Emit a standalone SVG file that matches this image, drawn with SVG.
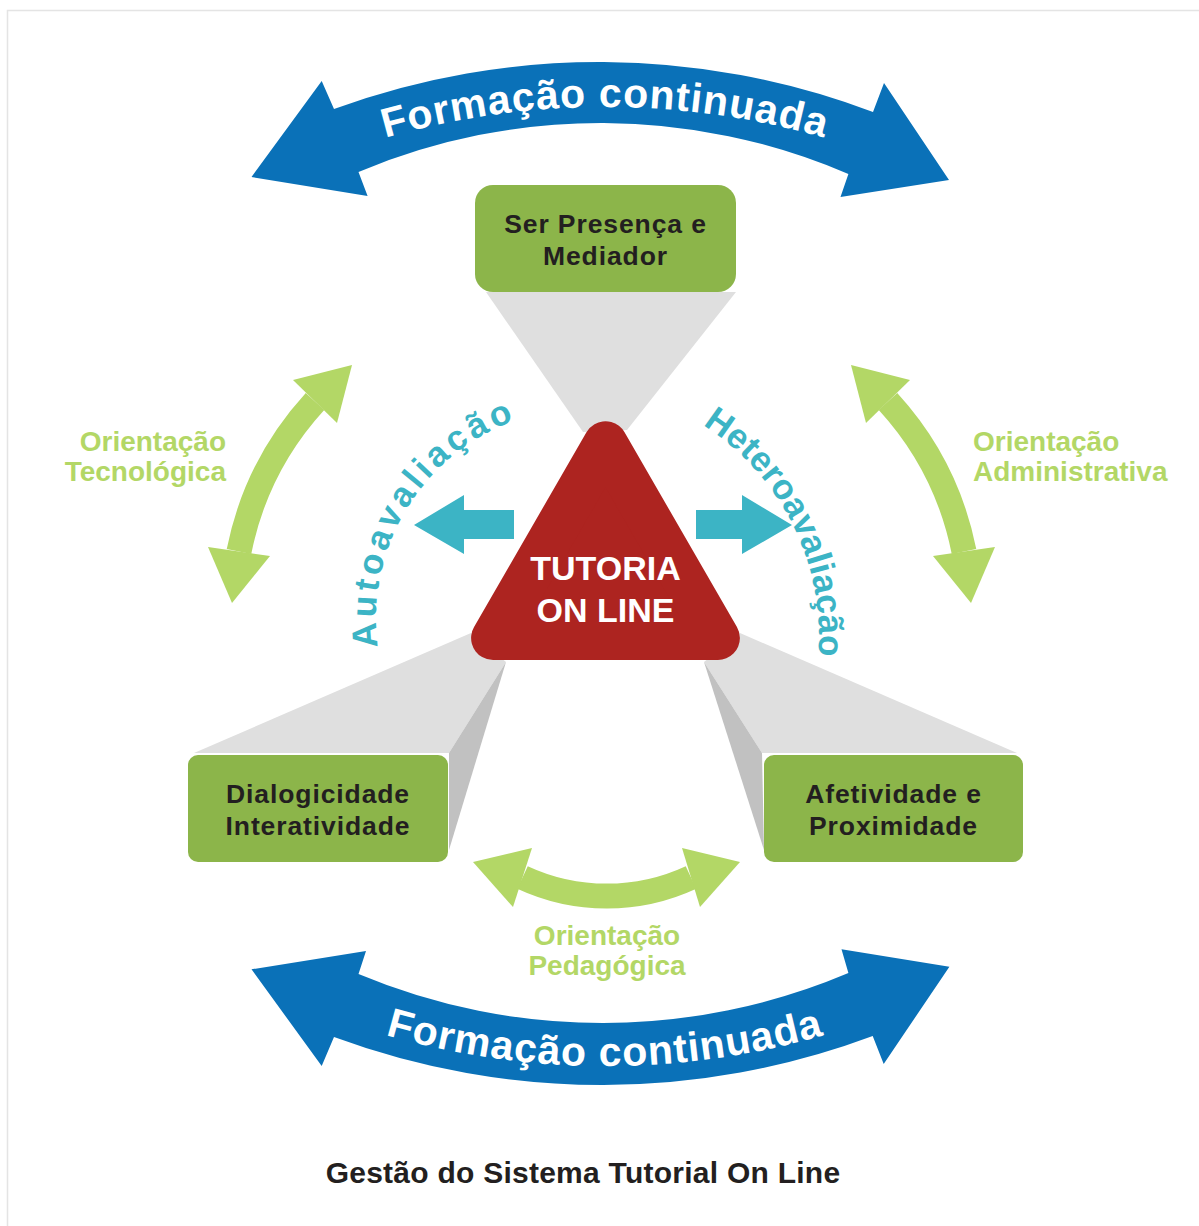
<svg xmlns="http://www.w3.org/2000/svg" width="1199" height="1226" viewBox="0 0 1199 1226">
  <defs>
    <style>
      .box { fill: #8cb54a; }
      .boxtxt { font-family: "Liberation Sans", Arial, sans-serif; font-weight: bold; font-size: 26.5px; fill: #231f20; text-anchor: middle; letter-spacing: 0.9px; }
      .lbl { font-family: "Liberation Sans", Arial, sans-serif; font-weight: bold; font-size: 28px; fill: #b3d766; }
      .arcTxt { font-family: "Liberation Sans", Arial, sans-serif; font-weight: bold; font-size: 35px; fill: #3cb4c5; }
      .bandTxt { font-family: "Liberation Sans", Arial, sans-serif; font-weight: bold; font-size: 41px; fill: #ffffff; letter-spacing: 1px; }
      .lgArrow { fill: #b3d766; }
      .lgShaft { fill: none; stroke: #b3d766; stroke-width: 25; }
      .blue { fill: #0a71b8; }
      .cyan { fill: #3cb4c5; }
      .grayL { fill: #dfdfdf; }
      .grayD { fill: #c1c1c1; }
    </style>
    <!-- baselines for the curved captions -->
    <path id="pAuto" d="M378,647 A210,210 0 0 1 557.8,410"/>
    <path id="pHetero" d="M702.7,425 A250,250 0 0 1 803,724"/>
    <path id="pTop" d="M205,214.2 A800,800 0 0 1 1005,214.2"/>
    <path id="pBottom" d="M210,960.2 A790,790 0 0 0 1000,960.2"/>
  </defs>

  <rect width="1199" height="1226" fill="#ffffff"/>
  <path d="M7.5,1226 V10.5 H1199" fill="none" stroke="#e4e4e4" stroke-width="1.5"/>

  <g id="connectors">
    <!-- projections from the triangle to the three boxes -->
    <polygon class="grayL" points="486,292 736,292 627,430 583,432"/>
    <polygon class="grayL" points="194,753 471,633 506,662 449,753"/>
    <polygon class="grayD" points="449,753 506,662 449,850"/>
    <polygon class="grayL" points="1017,753 740,633 704,662 762,753"/>
    <polygon class="grayD" points="762,753 704,662 764,850"/>

    <!-- Formação continuada bands -->
    <path id="bandTop" class="blue" d="M334,109 A773,773 0 0 1 873,112 L884,83 L949,180 L840.5,197 L848.4,174 A625,625 0 0 0 358.5,172 L367.6,196 L251.5,177 L321.7,81 Z"/>
    <path id="bandBottom" class="blue" d="M358.5,974 A631,631 0 0 0 848.4,973 L841.5,949.3 L949.4,966.7 L883.7,1064 L872.7,1036 A773,773 0 0 1 334,1037 L321.7,1066 L251.5,969.3 L366,951 Z"/>

    <!-- evaluation arrows -->
    <path id="arrowAuto" class="cyan" d="M514,510 H464 V495 L414,525 L464,554 V539 H514 Z"/>
    <path id="arrowHetero" class="cyan" d="M696,510 H742 V495 L792,525 L742,554 V539 H696 Z"/>

    <!-- orientation arrows -->
    <g id="arrowTec">
      <path class="lgShaft" d="M239,551.5 A313,313 0 0 1 315,401.5"/>
      <polygon class="lgArrow" points="352,365 293,380 337,423"/>
      <polygon class="lgArrow" points="232,603 208,547 270,556"/>
    </g>
    <g id="arrowAdm" transform="translate(1203,0) scale(-1,1)">
      <path class="lgShaft" d="M239,551.5 A313,313 0 0 1 315,401.5"/>
      <polygon class="lgArrow" points="352,365 293,380 337,423"/>
      <polygon class="lgArrow" points="232,603 208,547 270,556"/>
    </g>
    <g id="arrowPed">
      <path class="lgShaft" d="M522.5,877.5 A200,200 0 0 0 691,877.5"/>
      <polygon class="lgArrow" points="473,862 532,848 513,907"/>
      <polygon class="lgArrow" points="740,862 682,848 700,907"/>
    </g>
  </g>

  <g id="captions">
    <text class="bandTxt" text-anchor="middle"><textPath href="#pTop" startOffset="50%">Formação continuada</textPath></text>
    <text class="bandTxt" text-anchor="middle"><textPath href="#pBottom" startOffset="50%">Formação continuada</textPath></text>
    <text class="arcTxt" letter-spacing="4"><textPath href="#pAuto">Autoavaliação</textPath></text>
    <text class="arcTxt" letter-spacing="0.2"><textPath href="#pHetero">Heteroavaliação</textPath></text>

    <text class="lbl" text-anchor="end" x="226" y="451">Orientação</text>
    <text class="lbl" text-anchor="end" x="226" y="481">Tecnológica</text>
    <text class="lbl" x="973" y="451">Orientação</text>
    <text class="lbl" x="973" y="481">Administrativa</text>
    <text class="lbl" text-anchor="middle" x="607" y="945">Orientação</text>
    <text class="lbl" text-anchor="middle" x="607" y="975">Pedagógica</text>
  </g>

  <g id="node-presenca">
    <rect class="box" x="475" y="185" width="261" height="107" rx="18"/>
    <text class="boxtxt" x="605.5" y="233">Ser Presença e</text>
    <text class="boxtxt" x="605.5" y="265">Mediador</text>
  </g>

  <g id="node-dialogicidade">
    <rect class="box" x="188" y="755" width="260" height="107" rx="10"/>
    <text class="boxtxt" x="318" y="803">Dialogicidade</text>
    <text class="boxtxt" x="318" y="835">Interatividade</text>
  </g>

  <g id="node-afetividade">
    <rect class="box" x="764" y="755" width="259" height="107" rx="10"/>
    <text class="boxtxt" x="893.5" y="803">Afetividade e</text>
    <text class="boxtxt" x="893.5" y="835">Proximidade</text>
  </g>

  <g id="node-tutoria">
    <polygon points="605.5,443.3 493.1,638 717.9,638" fill="#ad2420" stroke="#ad2420" stroke-width="44" stroke-linejoin="round"/>
    <text x="605.5" y="580" text-anchor="middle" font-family="Liberation Sans, Arial, sans-serif" font-weight="bold" font-size="34" fill="#ffffff">TUTORIA</text>
    <text x="605.5" y="622" text-anchor="middle" font-family="Liberation Sans, Arial, sans-serif" font-weight="bold" font-size="34" fill="#ffffff">ON LINE</text>
  </g>

  <text id="title" x="583" y="1183" text-anchor="middle" font-family="Liberation Sans, Arial, sans-serif" font-weight="bold" font-size="30" letter-spacing="0.25" fill="#231f20">Gestão do Sistema Tutorial On Line</text>
</svg>
